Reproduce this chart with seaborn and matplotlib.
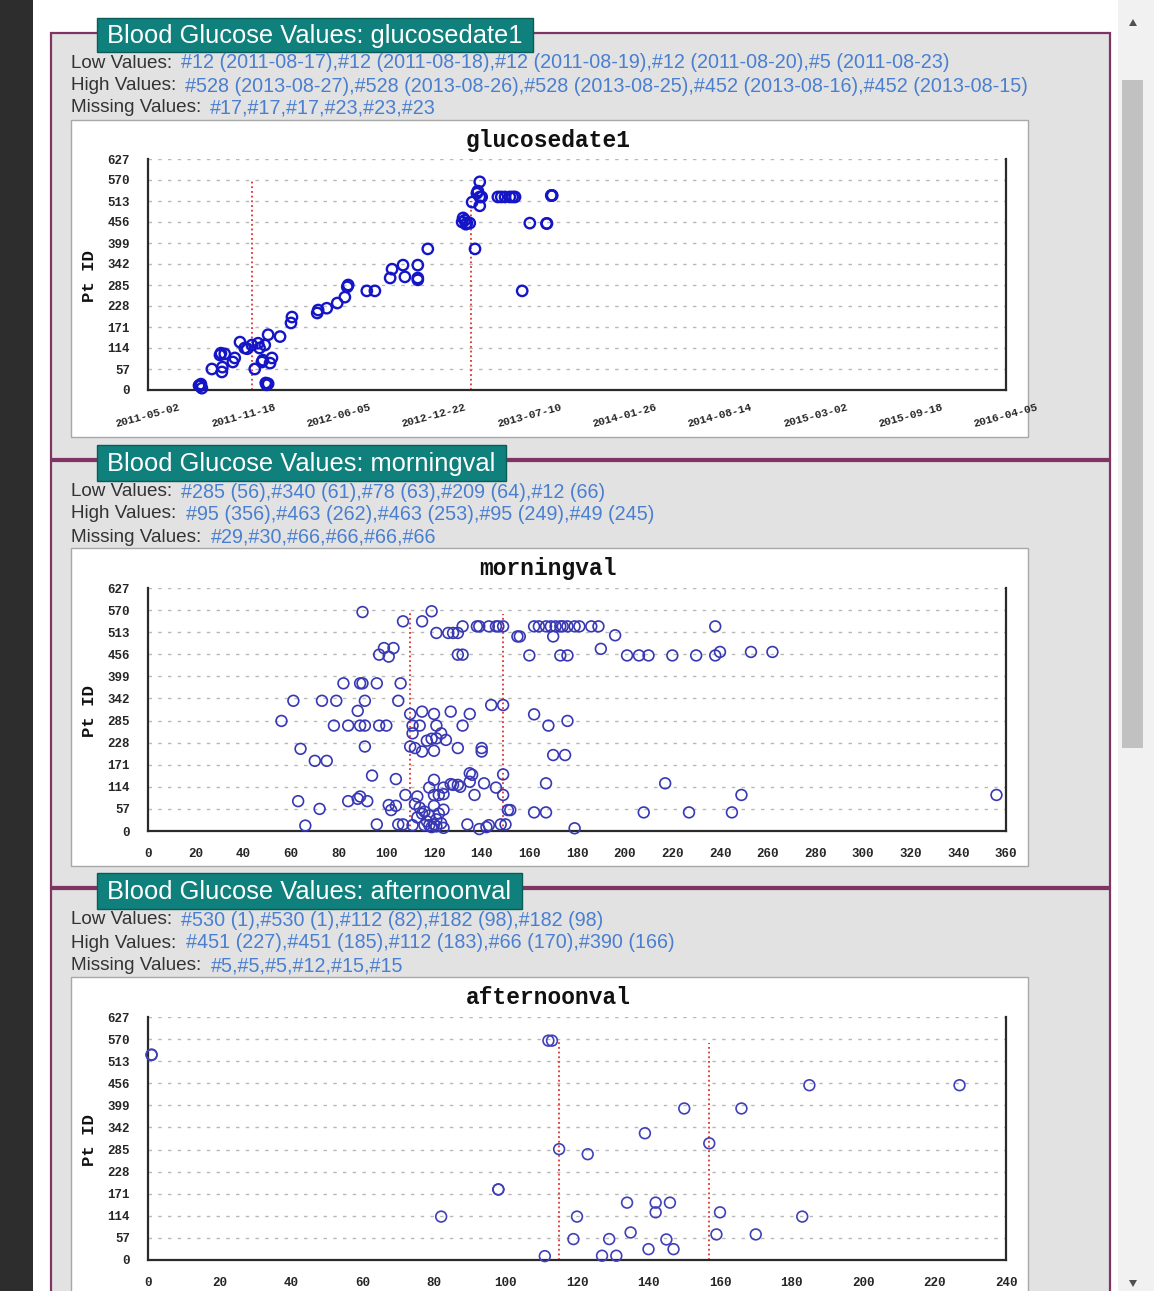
import numpy as np
import pandas as pd
import matplotlib
matplotlib.use("Agg")
import matplotlib.pyplot as plt
import seaborn as sns
from matplotlib.patches import Rectangle, Polygon

W, H = 1154, 1291

# ---------------- data ----------------
y_ticks = [0, 57, 114, 171, 228, 285, 342, 399, 456, 513, 570, 627]

# Panel 1: glucosedate1 (date vs patient id)
g1_dates = ["2011-08-17", "2011-08-18", "2011-08-19", "2011-08-20", "2011-08-23", "2011-08-21",
            "2011-09-13", "2011-09-30", "2011-10-02", "2011-10-04", "2011-10-05", "2011-10-10",
            "2011-10-27", "2011-10-31", "2011-11-11", "2011-11-21", "2011-11-26", "2011-12-06",
            "2011-12-12", "2011-12-19", "2011-12-22", "2011-12-27", "2011-12-29", "2012-01-02",
            "2012-01-04", "2012-01-06", "2012-01-09", "2012-01-09", "2012-01-13", "2012-01-17",
            "2012-02-03", "2012-02-26", "2012-02-28", "2012-04-21", "2012-04-23", "2012-05-11",
            "2012-06-02", "2012-06-18", "2012-06-23", "2012-06-25", "2012-08-03", "2012-08-20",
            "2012-09-21", "2012-09-25", "2012-10-18", "2012-10-22", "2012-11-18", "2012-11-18",
            "2012-11-18", "2012-12-09",
            "2013-02-19", "2013-02-21", "2013-02-25", "2013-02-27", "2013-03-01", "2013-03-07",
            "2013-03-12", "2013-03-18", "2013-03-22", "2013-03-24", "2013-03-28", "2013-03-28",
            "2013-03-28", "2013-04-01", "2013-05-05", "2013-05-12", "2013-05-20", "2013-05-30",
            "2013-06-05", "2013-06-10", "2013-06-25", "2013-07-11", "2013-08-15", "2013-08-16",
            "2013-08-25", "2013-08-26", "2013-08-27"]
g1_ids = [12, 12, 12, 12, 5, 16,
          57, 95, 100, 49, 62, 98,
          76, 87, 130, 114, 112, 122,
          57, 127, 114, 76, 81, 122,
          19, 14, 150, 17, 73, 87,
          145, 182, 198, 209, 217, 222,
          236, 252, 280, 285, 269, 269,
          304, 328, 339, 307, 339, 304,
          299, 383,
          456, 467, 461, 450, 453, 453,
          510, 383, 534, 540, 524, 565,
          500, 524, 524, 524, 524, 524,
          524, 524, 269, 453, 452, 452,
          528, 528, 528]
g1_ref_dates = ["2011-12-06", "2013-03-10"]
g1_ref_tops = [570, 513]
g1_tick_dates = ["2011-05-02", "2011-11-18", "2012-06-05", "2012-12-22", "2013-07-10",
                 "2014-01-26", "2014-08-14", "2015-03-02", "2015-09-18", "2016-04-05"]

# Panel 2: morningval
m_vals = [90, 107, 115, 119,
          121, 126, 128, 130, 132, 138, 139, 143, 146, 147, 149,
          155, 156, 162, 164, 167, 169, 171, 173, 174, 176, 179, 181, 186, 189, 170, 196, 238,
          97, 99, 101, 103, 130, 132, 160, 173, 176, 190, 201, 206, 210, 220, 230, 238, 240, 253, 262,
          82, 89, 90, 96, 106,
          61, 73, 79, 91, 105,
          144, 149, 88, 56,
          78, 84, 89, 91, 97, 100, 111, 114, 121, 132, 168,
          110, 115, 120, 127, 135, 162, 176,
          111, 123, 117, 119, 121, 125,
          110, 112, 115, 120, 130, 140, 140, 64, 91,
          70, 75, 170, 175,
          94, 104,
          135, 136, 130, 131, 135, 120, 118, 124, 127, 128, 141, 146, 149, 167, 217,
          137, 149, 108, 113, 120, 122, 124, 356, 249,
          151, 152, 162, 167, 208, 227, 245,
          104, 101, 102, 63, 72, 84, 88, 89, 92,
          112, 114, 116, 118, 120, 122, 124, 113, 117, 121, 123, 119, 115,
          66, 96, 105, 107, 111, 116, 118, 120, 121, 124, 134, 139, 143, 148, 150, 179, 142]
m_ids = [565, 541, 541, 567,
         511, 511, 511, 511, 528, 528, 528, 528, 528, 528, 528,
         502, 502, 528, 528, 528, 528, 528, 528, 528, 528, 528, 528, 528, 528, 502, 505, 528,
         455, 472, 450, 472, 455, 455, 453, 453, 453, 470, 453, 453, 453, 453, 453, 453, 462, 462, 462,
         381, 381, 381, 381, 381,
         336, 336, 336, 336, 336,
         325, 325, 310, 284,
         272, 272, 272, 272, 272, 272, 272, 272, 272, 272, 272,
         302, 308, 302, 308, 302, 301, 284,
         252, 252, 233, 238, 239, 235,
         218, 214, 205, 207, 214, 214, 205, 212, 218,
         181, 181, 196, 196,
         143, 134,
         149, 145, 119, 114, 127, 132, 112, 112, 121, 119, 123, 112, 146, 123, 123,
         93, 93, 93, 89, 93, 93, 95, 93, 93,
         54, 54, 48, 48, 48, 48, 48,
         65, 67, 54, 77, 57, 77, 83, 89, 77,
         70, 60, 50, 40, 65, 45, 55, 35, 25, 30, 20, 10, 45,
         14, 17, 17, 17, 15, 15, 15, 17, 12, 8, 17, 5, 15, 17, 17, 7, 10]
m_refs = [110, 149]
m_ref_tops = [566, 560]
m_ticks = list(range(0, 361, 20))

# Panel 3: afternoonval
a_vals = [1, 1, 82, 98, 98, 111, 112, 113, 115, 123, 119, 120, 127, 131, 129, 134, 135,
          139, 140, 142, 142, 145, 146, 147, 150, 157, 159, 160, 166, 170, 183, 185, 227]
a_ids = [529, 530, 112, 182, 182, 10, 566, 566, 286, 273, 54, 112, 11, 11, 54, 148, 71,
         327, 28, 148, 123, 53, 148, 28, 391, 301, 66, 123, 391, 66, 112, 451, 451]
a_refs = [115, 157]
a_ref_tops = [568, 560]
a_ticks = list(range(0, 241, 20))

panel_titles = ["Blood Glucose Values: glucosedate1",
                "Blood Glucose Values: morningval",
                "Blood Glucose Values: afternoonval"]
chart_titles = ["glucosedate1", "morningval", "afternoonval"]
low_texts = ["#12 (2011-08-17),#12 (2011-08-18),#12 (2011-08-19),#12 (2011-08-20),#5 (2011-08-23)",
             "#285 (56),#340 (61),#78 (63),#209 (64),#12 (66)",
             "#530 (1),#530 (1),#112 (82),#182 (98),#182 (98)"]
high_texts = ["#528 (2013-08-27),#528 (2013-08-26),#528 (2013-08-25),#452 (2013-08-16),#452 (2013-08-15)",
              "#95 (356),#463 (262),#463 (253),#95 (249),#49 (245)",
              "#451 (227),#451 (185),#112 (183),#66 (170),#390 (166)"]
missing_texts = ["#17,#17,#17,#23,#23,#23",
                 "#29,#30,#66,#66,#66,#66",
                 "#5,#5,#5,#12,#15,#15"]

# ---------------- figure & page decoration ----------------
sns.set_style("white")
plt.rcParams['font.family'] = ['Liberation Sans', 'DejaVu Sans']

fig = plt.figure(figsize=(W / 100, H / 100), dpi=100)
fig.patch.set_facecolor("white")
bg = fig.add_axes([0, 0, 1, 1], zorder=0)
bg.set_xlim(0, W)
bg.set_ylim(H, 0)
bg.axis("off")

bg.add_patch(Rectangle((0, 0), 33, H, fc="#2d2d2d", ec="none"))
bg.add_patch(Rectangle((1118, 0), 36, H, fc="#f1f1f1", ec="none"))
bg.add_patch(Rectangle((1122, 80), 21, 668, fc="#c1c1c1", ec="none"))
bg.add_patch(Polygon([(1129, 26), (1137, 26), (1133, 19)], closed=True, fc="#505050", ec="none"))
bg.add_patch(Polygon([(1129, 1280), (1137, 1280), (1133, 1287)], closed=True, fc="#505050", ec="none"))

fieldsets = [(33, 459), (461, 887), (889, 1400)]
legend_boxes = [(97, 533, 18, 52), (97, 506, 445, 481), (97, 522, 873, 909)]
text_rows = [(63, 86, 108), (492, 514, 537), (920, 943, 966)]
value_x = [(181, 185, 210), (181, 186, 211), (181, 186, 211)]
plot_boxes = [(120, 437), (548, 866), (977, 1400)]
axis_px = [(390, 159), (831, 588), (1260, 1017)]

for i in range(3):
    t, b = fieldsets[i]
    bg.add_patch(Rectangle((51, t), 1059, b - t, fc="#e2e2e2", ec="#7f3563", lw=1.6))
for i in range(3):
    x0, x1, y0, y1 = legend_boxes[i]
    bg.add_patch(Rectangle((x0, y0), x1 - x0, y1 - y0, fc="#0f807b", ec="#0a5c58", lw=1.0, zorder=3))
    bg.text(107, (y0 + y1) / 2 + 1, panel_titles[i], color="white", fontsize=18.4,
            va="center", ha="left", zorder=4)
    ry = text_rows[i]
    vx = value_x[i]
    for lab, txt, yy, xx in zip(["Low Values:", "High Values:", "Missing Values:"],
                                [low_texts[i], high_texts[i], missing_texts[i]], ry, vx):
        bg.text(71, yy, lab, color="#333333", fontsize=13.6, va="center", ha="left")
        bg.text(xx, yy, txt, color="#4a7fd0", fontsize=14.2, va="center", ha="left")
    pt, pb = plot_boxes[i]
    bg.add_patch(Rectangle((71, pt), 957, pb - pt, fc="white", ec="#a8a8a8", lw=1.0))
    y0p, y1p = axis_px[i]
    bg.text(548, y1p - 19, chart_titles[i], fontsize=16.5, family="Liberation Mono",
            weight="bold", ha="center", va="center", color="#111111")
    bg.text(90, (y0p + y1p) / 2 + 2, "Pt ID", fontsize=12.5, family="Liberation Mono",
            weight="bold", rotation=90, ha="center", va="center", color="#111111")

mono = dict(family="Liberation Mono", weight="bold")


def make_axes(i):
    y0p, y1p = axis_px[i]
    ax = fig.add_axes([148 / W, 1 - y0p / H, 858 / W, (y0p - y1p) / H], zorder=2)
    ax.set_facecolor("none")
    for s in ["left", "bottom", "right"]:
        ax.spines[s].set_visible(True)
        ax.spines[s].set_color("#2a2a2a")
        ax.spines[s].set_linewidth(1.6)
    ax.spines["top"].set_visible(False)
    ax.set_ylim(0, 627)
    ax.set_yticks(y_ticks)
    ax.set_yticklabels([str(v) for v in y_ticks], fontsize=9, **mono)
    ax.tick_params(axis="y", direction="inout", length=12, width=1.4, pad=7, color="#2a2a2a")
    ax.tick_params(axis="x", direction="inout", length=13, width=1.4, color="#2a2a2a")
    ax.grid(axis="y", color="#b8b8b8", linestyle=(0, (2.5, 4.5)), linewidth=1.0)
    ax.grid(axis="x", visible=False)
    ax.set_axisbelow(True)
    return ax


# Panel 1
ax1 = make_axes(0)
df1 = pd.DataFrame({"date": pd.to_datetime(g1_dates), "pid": g1_ids})
sns.scatterplot(data=df1, x="date", y="pid", ax=ax1, s=56, marker="o", facecolor="none",
                edgecolor="#1515c8", linewidth=1.7, clip_on=False, zorder=3)
ax1.vlines(pd.to_datetime(g1_ref_dates), 0, g1_ref_tops, colors="#e03030",
           linestyles=(0, (1, 1.6)), linewidth=1.3, zorder=2)
ax1.set_xlim(pd.Timestamp(g1_tick_dates[0]), pd.Timestamp(g1_tick_dates[-1]))
ax1.set_xticks(pd.to_datetime(g1_tick_dates))
ax1.set_xticklabels(g1_tick_dates, rotation=15, ha="center", fontsize=8, **mono)
ax1.tick_params(axis="x", pad=2)
ax1.set_xlabel("")
ax1.set_ylabel("")

# Panel 2
ax2 = make_axes(1)
df2 = pd.DataFrame({"val": m_vals, "pid": m_ids})
sns.scatterplot(data=df2, x="val", y="pid", ax=ax2, s=60, marker="o", facecolor="none",
                edgecolor="#3838b4", linewidth=1.2, clip_on=False, zorder=3)
ax2.vlines(m_refs, 0, m_ref_tops, colors="#e03030", linestyles=(0, (1, 1.6)),
           linewidth=1.3, zorder=2)
ax2.set_xlim(0, 360)
ax2.set_xticks(m_ticks)
ax2.set_xticklabels([str(v) for v in m_ticks], fontsize=9, **mono)
ax2.tick_params(axis="x", pad=6)
ax2.set_xlabel("")
ax2.set_ylabel("")

# Panel 3
ax3 = make_axes(2)
df3 = pd.DataFrame({"val": a_vals, "pid": a_ids})
sns.scatterplot(data=df3, x="val", y="pid", ax=ax3, s=60, marker="o", facecolor="none",
                edgecolor="#4040b8", linewidth=1.2, clip_on=False, zorder=3)
ax3.vlines(a_refs, 0, a_ref_tops, colors="#e03030", linestyles=(0, (1, 1.6)),
           linewidth=1.3, zorder=2)
ax3.set_xlim(0, 240)
ax3.set_xticks(a_ticks)
ax3.set_xticklabels([str(v) for v in a_ticks], fontsize=9, **mono)
ax3.tick_params(axis="x", pad=6)
ax3.set_xlabel("")
ax3.set_ylabel("")

fig.savefig("out.png", dpi=100)
